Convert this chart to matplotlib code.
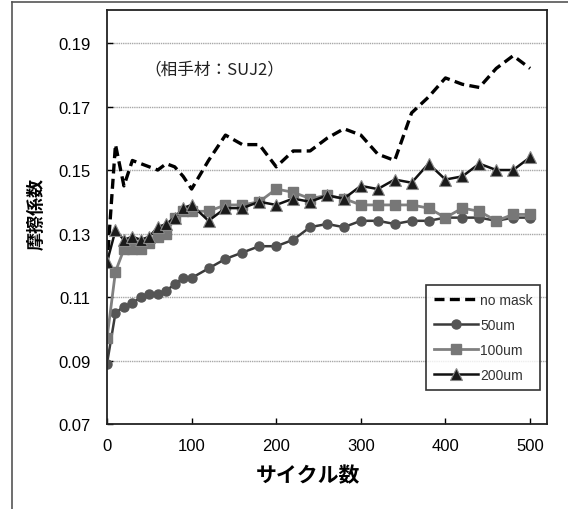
import matplotlib
matplotlib.use("Agg")
import matplotlib.pyplot as plt
from matplotlib.lines import Line2D

plt.rcParams['font.family'] = ['Liberation Sans', 'Noto Sans CJK JP', 'DejaVu Sans']

# cycles (every 10 up to 100, then every 20)
cycles = [0, 10, 20, 30, 40, 50, 60, 70, 80, 90, 100,
          120, 140, 160, 180, 200, 220, 240, 260, 280, 300,
          320, 340, 360, 380, 400, 420, 440, 460, 480, 500]

no_mask = [0.120, 0.158, 0.145, 0.153, 0.152, 0.151, 0.150, 0.152, 0.151, 0.148, 0.144,
           0.153, 0.161, 0.158, 0.158, 0.151, 0.156, 0.156, 0.160, 0.163, 0.161,
           0.155, 0.153, 0.168, 0.173, 0.179, 0.177, 0.176, 0.182, 0.186, 0.182]
um50 = [0.089, 0.105, 0.107, 0.108, 0.110, 0.111, 0.111, 0.112, 0.114, 0.116, 0.116,
        0.119, 0.122, 0.124, 0.126, 0.126, 0.128, 0.132, 0.133, 0.132, 0.134,
        0.134, 0.133, 0.134, 0.134, 0.135, 0.135, 0.135, 0.134, 0.135, 0.135]
um100 = [0.097, 0.118, 0.125, 0.125, 0.125, 0.127, 0.129, 0.130, 0.135, 0.137, 0.137,
         0.137, 0.139, 0.139, 0.140, 0.144, 0.143, 0.141, 0.142, 0.141, 0.139,
         0.139, 0.139, 0.139, 0.138, 0.135, 0.138, 0.137, 0.134, 0.136, 0.136]
um200 = [0.121, 0.131, 0.128, 0.129, 0.128, 0.129, 0.132, 0.133, 0.135, 0.138, 0.139,
         0.134, 0.138, 0.138, 0.140, 0.139, 0.141, 0.140, 0.142, 0.141, 0.145,
         0.144, 0.147, 0.146, 0.152, 0.147, 0.148, 0.152, 0.150, 0.150, 0.154]

labels = ["no mask", "50um", "100um", "200um"]
yticks = [0.07, 0.09, 0.11, 0.13, 0.15, 0.17, 0.19]
xticks = [0, 100, 200, 300, 400, 500]

fig = plt.figure(figsize=(5.68, 5.10), dpi=100)
ax = fig.add_axes([107/568, 85/510, 440/568, 414/510])

# figure frame (left and top lines)
fig.add_artist(Line2D([12/568, 12/568], [0, 507/510], color="#555555", lw=1.2))
fig.add_artist(Line2D([12/568, 1], [507/510, 507/510], color="#555555", lw=1.2))

ax.plot(cycles, no_mask, color="black", lw=2.4, ls=(0, (3, 1.6)), label=labels[0])
ax.plot(cycles, um50, color="#3a3a3a", lw=1.8, marker="o", ms=6.5,
        mfc="#555555", mec="#555555", label=labels[1])
ax.plot(cycles, um100, color="#808080", lw=2.0, marker="s", ms=6.5,
        mfc="#777777", mec="#777777", label=labels[2])
ax.plot(cycles, um200, color="#111111", lw=1.8, marker="^", ms=8.5,
        mfc="#1a1a1a", mec="#888888", mew=0.8, label=labels[3])

ax.set_xlim(0, 520)
ax.set_ylim(0.07, 0.2004)
ax.set_xticks(xticks)
ax.set_yticks(yticks)
ax.set_yticklabels([f"{v:.2f}" for v in yticks])
ax.tick_params(direction="in", length=4, width=1, labelsize=12, pad=12)
ax.tick_params(axis="x", pad=10)
for s in ax.spines.values():
    s.set_linewidth(1.3)
    s.set_color("#222222")

for v in yticks[1:]:
    ax.axhline(v, color="#a8a8a8", lw=1.0, ls=(0, (1, 0.6)), zorder=0)

ax.text(0.085, 0.857, "（相手材：SUJ2）", transform=ax.transAxes,
        fontsize=12, va="center", ha="left",
        family=["Noto Sans CJK JP", "DejaVu Sans"], color="#222222")

fig.text(308/568, 1 - 476/510, "サイクル数", ha="center", va="center",
         fontsize=15, fontweight="bold", family=["Noto Sans CJK JP", "DejaVu Sans"])
fig.text(36/568, 1 - 214/510, "摩擦係数", ha="center", va="center", rotation=90,
         fontsize=13, fontweight="bold", family=["Noto Sans CJK JP", "DejaVu Sans"])

leg = ax.legend(loc="upper left", bbox_to_anchor=((426-107)/440, (425-286)/414),
                borderaxespad=0, fontsize=10, frameon=True, fancybox=False,
                edgecolor="black", handlelength=3.2, handletextpad=0.15,
                labelspacing=0.8, borderpad=0.55)
leg.get_frame().set_linewidth(1.2)
for t in leg.get_texts():
    t.set_color("#333333")

fig.savefig("out.png", dpi=100)
